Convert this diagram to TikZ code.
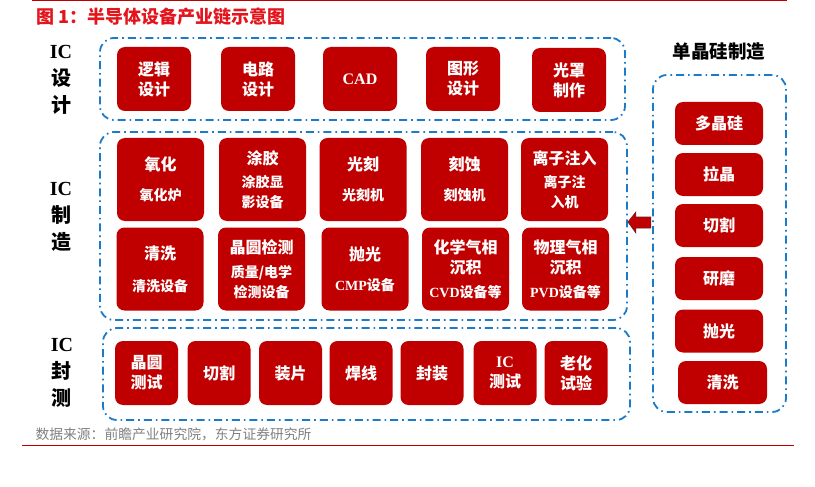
\documentclass[tikz,border=0pt]{standalone}
\usepackage{fontspec}
\setmainfont{Liberation Serif}
\newfontfamily\cjk{Noto Sans CJK SC}
\usetikzlibrary{calc}

\definecolor{boxred}{HTML}{C00000}
\definecolor{titlered}{HTML}{E3141B}
\definecolor{dashblue}{HTML}{1B7BC9}
\definecolor{srcgray}{HTML}{808080}
\definecolor{arrowedge}{HTML}{6A1E22}

\newcommand{\lat}[1]{{\rmfamily #1}}
\newcommand{\subtxt}{\fontsize{14}{18}\selectfont}

\tikzset{
  grp/.style={draw=dashblue, line width=1.8pt, dash pattern=on 8pt off 4pt on 1.6pt off 4pt,
    rounded corners=14pt, inner sep=0pt},
  redbox/.style={fill=boxred, rounded corners=8pt, text=white, align=center, inner sep=0pt,
    font=\cjk\bfseries\fontsize{16}{20}\selectfont},
  dsgnbox/.style={redbox, minimum width=74pt, minimum height=64pt},
  mfgbox/.style={redbox, minimum width=87pt, minimum height=83pt},
  pkgbox/.style={redbox, minimum width=63pt, minimum height=64pt},
  sibox/.style={redbox, minimum width=88pt, minimum height=43pt},
  sidelabel/.style={align=center, font=\cjk\bfseries\fontsize{20}{27}\selectfont},
}

\begin{document}
\begin{tikzpicture}[x=1pt, y=-1pt]

    \useasboundingbox (0,0) rectangle (815,487);

    % title and rules
    \draw[boxred, line width=1.3pt] (32,0.6) -- (787,0.6);
    \node[anchor=west, text=titlered, font=\cjk\bfseries\fontsize{18}{20}\selectfont] (title) at (33,16.5) {图 1：半导体设备产业链示意图};
    \draw[boxred, line width=1pt] (22,445) -- (794,445);
    \node[anchor=west, text=srcgray, font=\cjk\fontsize{13.8}{15}\selectfont] (src) at (32,434) {数据来源：前瞻产业研究院，东方证券研究所};

    % groups
    \node[grp, minimum width=525pt, minimum height=82pt] (design) at (362.5,79) {};
    \node[grp, minimum width=527pt, minimum height=188pt] (mfg) at (363.5,226) {};
    \node[grp, minimum width=527pt, minimum height=92pt] (pkg) at (366.5,374) {};
    \node[grp, minimum width=133pt, minimum height=337pt] (si) at (719.5,243.5) {};

    % side labels
    \node[sidelabel] (lbdesign) at (61,80) {\lat{IC}\\设\\计};
    \node[sidelabel] (lbmfg) at (61,217) {\lat{IC}\\制\\造};
    \node[sidelabel] (lbpkg) at (62,373) {\lat{IC}\\封\\测};
    \node[font=\cjk\bfseries\fontsize{18.5}{20}\selectfont] (sititle) at (719,52) {单晶硅制造};

    % IC design
    \node[dsgnbox] (luoji) at (154,79) {逻辑\\设计};
    \node[dsgnbox] (dianlu) at (258,79) {电路\\设计};
    \node[dsgnbox] (cad) at (360,79) {\lat{CAD}};
    \node[dsgnbox] (tuxing) at (463,79) {图形\\设计};
    \node[dsgnbox] (guangzhao) at (569,80) {光罩\\制作};

    % IC manufacturing
    \node[mfgbox] (yanghua) at (160.5,179.5) {氧化\\[10pt]{\subtxt 氧化炉}};
    \node[mfgbox] (tujiao) at (262.5,179.5) {涂胶\\[3pt]{\subtxt 涂胶显}\\{\subtxt 影设备}};
    \node[mfgbox] (guangke) at (363,179.5) {光刻\\[10pt]{\subtxt 光刻机}};
    \node[mfgbox] (keshi) at (464.5,179.5) {刻蚀\\[10pt]{\subtxt 刻蚀机}};
    \node[mfgbox] (lizi) at (564.5,179.5) {离子注入\\[3pt]{\subtxt 离子注}\\{\subtxt 入机}};
    \node[mfgbox] (qingxi) at (160,269) {清洗\\[12pt]{\subtxt 清洗设备}};
    \node[mfgbox] (jiance) at (261.5,269) {晶圆检测\\[4pt]{\subtxt 质量/电学}\\{\subtxt 检测设备}};
    \node[mfgbox] (paoguang) at (365,269) {抛光\\[10pt]{\subtxt \lat{CMP}设备}};
    \node[mfgbox] (cvd) at (465.5,269) {化学气相\\沉积\\[4pt]{\subtxt \lat{CVD}设备等}};
    \node[mfgbox] (pvd) at (565.5,269) {物理气相\\沉积\\[4pt]{\subtxt \lat{PVD}设备等}};

    % IC packaging and test
    \node[pkgbox] (jyce) at (146.5,373) {晶圆\\测试};
    \node[pkgbox] (qiege) at (219,373) {切割};
    \node[pkgbox] (zhuangpian) at (290.5,373) {装片};
    \node[pkgbox] (hanxian) at (361,373) {焊线};
    \node[pkgbox] (fengzhuang) at (432,373) {封装};
    \node[pkgbox] (icce) at (505,373) {\lat{IC}\\测试};
    \node[pkgbox] (laohua) at (576,373) {老化\\试验};

    % monocrystalline silicon
    \node[sibox] (duojinggui) at (719,123.5) {多晶硅};
    \node[sibox] (lajing) at (719,174.5) {拉晶};
    \node[sibox] (qiege2) at (719,225.5) {切割};
    \node[sibox] (yanmo) at (719,278.5) {研磨};
    \node[sibox] (paoguang2) at (719,331) {抛光};
    \node[sibox, minimum width=89pt] (qingxi2) at (722.5,382.5) {清洗};

    % block arrow si -> mfg
    \draw[fill=boxred, draw=arrowedge, line width=0.6pt] ($(mfg.east)+(0,-4)$) -- ++(8,-10) -- ++(0,5)
        -- ++(15,0) -- ++(0,11) -- ++(-15,0) -- ++(0,5) -- cycle;

\end{tikzpicture}
\end{document}
